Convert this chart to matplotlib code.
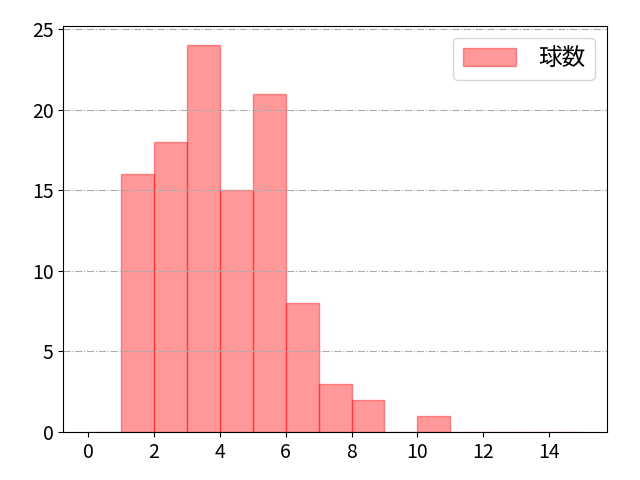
import matplotlib
matplotlib.use("Agg")
import matplotlib.pyplot as plt
import numpy as np

plt.rcParams['font.family'] = ['Noto Sans CJK JP', 'DejaVu Sans']
plt.rcParams['font.size'] = 14

# pitch-count bins and their frequencies
bin_edges = list(range(0, 16))
counts = [0, 16, 18, 24, 15, 21, 8, 3, 2, 0, 1, 0, 0, 0, 0]
label = "球数"

fig, ax = plt.subplots(figsize=(6.4, 4.8), dpi=100)
ax.bar(bin_edges[:-1], counts, width=1, align='edge',
       color='red', alpha=0.4, edgecolor='red', linewidth=1, label=label)
ax.set_xticks(np.arange(0, 15, 2))
ax.grid(axis='y', linestyle='-.', color='#aaaaaa', linewidth=0.8)
ax.set_axisbelow(False)
ax.legend(loc='upper right', fontsize=17, borderpad=0.4, handlelength=2.25,
          handleheight=0.85, handletextpad=0.95)
fig.subplots_adjust(left=0.099, right=0.948, top=0.946, bottom=0.1)
plt.savefig("out.png", dpi=100)
